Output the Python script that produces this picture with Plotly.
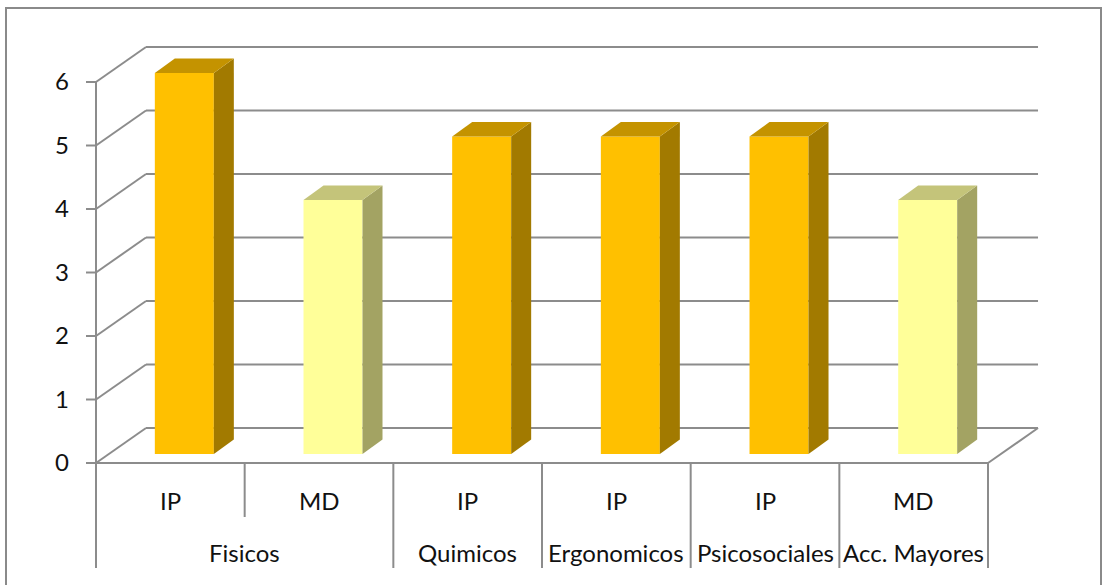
import plotly.graph_objects as go

# ---- data ----
groups = ["Fisicos", "Quimicos", "Ergonomicos", "Psicosociales", "Acc. Mayores"]
group_sizes = [2, 1, 1, 1, 1]
subcats = ["IP", "MD", "IP", "IP", "IP", "MD"]
values = [6, 4, 5, 5, 5, 4]
y_ticks = [0, 1, 2, 3, 4, 5, 6]

# front, side, top shades per series
palette = {
    "IP": ("#FFC000", "#A27A00", "#C49300"),
    "MD": ("#FFFF99", "#A3A363", "#C4C47A"),
}

# ---- geometry (axis units: 1 per category on x, 1 per value on y) ----
PX_X = 148.67          # pixels per category
PX_Y = 63.5            # pixels per value unit
W, H = 1104, 585
LEFT = 74              # left margin in pixels
AX0_PX, BASE_PX = 96, 463

DX, DY = 50 / PX_X, 35 / PX_Y          # wall depth offset
BX, BY = 14 / PX_X, 9 / PX_Y           # bar front-face offset into the depth
BW = 59 / PX_X                         # bar width
SX, SY = 20 / PX_X, 14.5 / PX_Y        # bar depth
TABLE_BOTTOM = -(568 - BASE_PX) / PX_Y
SPLIT_BOTTOM = -(517 - BASE_PX) / PX_Y
SUB_Y = -(500 - BASE_PX) / PX_Y
GROUP_Y = -(552 - BASE_PX) / PX_Y

n = len(values)
X0, X1 = -0.5, n - 0.5
x_range = [X0 - (AX0_PX - LEFT) / PX_X, X0 + (W - AX0_PX) / PX_X]
y_range = [-(H - BASE_PX) / PX_Y, BASE_PX / PX_Y]

GRID = "#8C8C8C"
FONT = "Lato"
TEXT_SIZE = 24

fig = go.Figure()

# front faces of the bars
fig.add_trace(go.Bar(
    x=[i + BX for i in range(n)],
    y=values,
    base=BY,
    width=BW,
    marker=dict(color=[palette[s][0] for s in subcats], line=dict(width=0)),
    hoverinfo="skip",
    showlegend=False,
))

# side and top faces
for i, (v, s) in enumerate(zip(values, subcats)):
    xl = i + BX - BW / 2
    xr = i + BX + BW / 2
    top = BY + v
    fig.add_trace(go.Scatter(
        x=[xr, xr + SX, xr + SX, xr, xr],
        y=[BY, BY + SY, top + SY, top, BY],
        fill="toself", fillcolor=palette[s][1], mode="lines",
        line=dict(width=0), hoverinfo="skip", showlegend=False,
    ))
    fig.add_trace(go.Scatter(
        x=[xl, xl + SX, xr + SX, xr, xl],
        y=[top, top + SY, top + SY, top, top],
        fill="toself", fillcolor=palette[s][2], mode="lines",
        line=dict(width=0), hoverinfo="skip", showlegend=False,
    ))

shapes = []


def seg(xa, ya, xb, yb):
    shapes.append(dict(type="line", xref="x", yref="y", x0=xa, y0=ya, x1=xb, y1=yb,
                       line=dict(color=GRID, width=2), layer="below"))


# back wall gridlines and side-wall diagonals
for v in y_ticks:
    seg(X0 + DX, v + DY, X1 + DX, v + DY)
    seg(X0, v, X0 + DX, v + DY)
    # tick marks on the front axis
    seg(X0 - 10 / PX_X, v, X0, v)

# floor front edge and right edge
seg(X0, 0, X1, 0)
seg(X1, 0, X1 + DX, DY)

# front value axis, continuing down through the category table
seg(X0, y_ticks[-1], X0, TABLE_BOTTOM)

# category table separators
pos = X0
for size in group_sizes:
    for k in range(1, size):
        seg(pos + k, 0, pos + k, SPLIT_BOTTOM)
    pos += size
    seg(pos, 0, pos, TABLE_BOTTOM)

# outer frame
paper_w = W - LEFT
shapes.append(dict(type="rect", xref="paper", yref="paper",
                   x0=(6 - LEFT) / paper_w, x1=(1101 - LEFT) / paper_w,
                   y0=-0.05, y1=1 - 8 / H,
                   line=dict(color="#8A8A8A", width=2), layer="below"))

annotations = []
for i, s in enumerate(subcats):
    annotations.append(dict(x=i, y=SUB_Y, xref="x", yref="y", text=s, showarrow=False,
                            font=dict(family=FONT, size=TEXT_SIZE, color="#111111"),
                            xanchor="center", yanchor="middle"))
pos = X0
for g, size in zip(groups, group_sizes):
    annotations.append(dict(x=pos + size / 2, y=GROUP_Y, xref="x", yref="y", text=g,
                            showarrow=False,
                            font=dict(family=FONT, size=TEXT_SIZE, color="#111111"),
                            xanchor="center", yanchor="middle"))
    pos += size

fig.update_layout(
    width=W, height=H,
    margin=dict(l=LEFT, r=0, t=0, b=0),
    paper_bgcolor="white", plot_bgcolor="white",
    shapes=shapes, annotations=annotations,
    showlegend=False,
    xaxis=dict(range=x_range, visible=False, fixedrange=True),
    yaxis=dict(range=y_range, tickvals=y_ticks, ticktext=[str(t) for t in y_ticks],
               showgrid=False, zeroline=False, showline=False, ticks="",
               tickfont=dict(family=FONT, size=TEXT_SIZE, color="#111111"),
               ticklabelstandoff=4, fixedrange=True),
)

fig.write_html("out.html")
